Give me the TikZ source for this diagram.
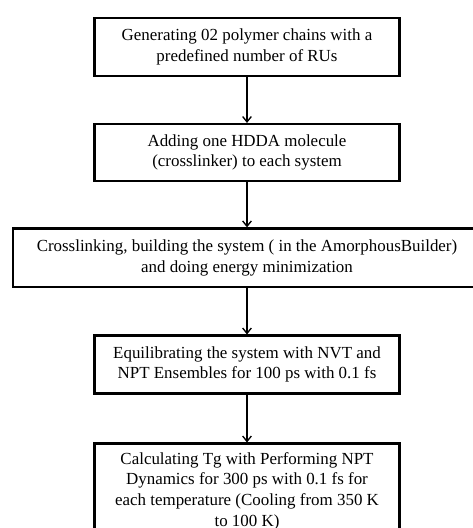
\documentclass[tikz,border=0pt]{standalone}
\usepackage{fontspec}
\setmainfont{Liberation Serif}
\usetikzlibrary{arrows.meta}

\tikzset{
  stepbox/.style={draw, line width=1.6pt, minimum width=228.75pt, align=center,
    inner sep=0pt, font=\fontsize{12.7}{15.5}\selectfont},
  flow/.style={-{Straight Barb[length=4pt,width=6.5pt]}, line width=1pt}
}

\begin{document}
\begin{tikzpicture}[x=0.75pt,y=-0.75pt]
\useasboundingbox (0,0) rectangle (473,528);

\node[stepbox, minimum height=43.5pt] (gen) at (247,47)
  {Generating 02 polymer chains with a\\predefined number of RUs};
\node[stepbox, minimum height=42.75pt] (add) at (247,152.5)
  {Adding one HDDA molecule\\(crosslinker) to each system};
\node[stepbox, minimum height=43.9pt, minimum width=351.4pt] (cross) at (247,257.7)
  {Crosslinking, building the system ( in the AmorphousBuilder)\\and doing energy minimization};
\node[stepbox, minimum height=43.5pt] (equil) at (247,364.5)
  {Equilibrating the system with NVT and\\NPT Ensembles for 100 ps with 0.1 fs};
\node[stepbox, minimum height=71.25pt] (calc) at (247,491)
  {Calculating Tg with Performing NPT\\Dynamics for 300 ps with 0.1 fs for\\each temperature (Cooling from 350 K\\to 100 K)};

\draw[flow] (gen) -- (add);
\draw[flow] (add) -- (cross);
\draw[flow] (cross) -- (equil);
\draw[flow] (equil) -- (calc);
\end{tikzpicture}
\end{document}
